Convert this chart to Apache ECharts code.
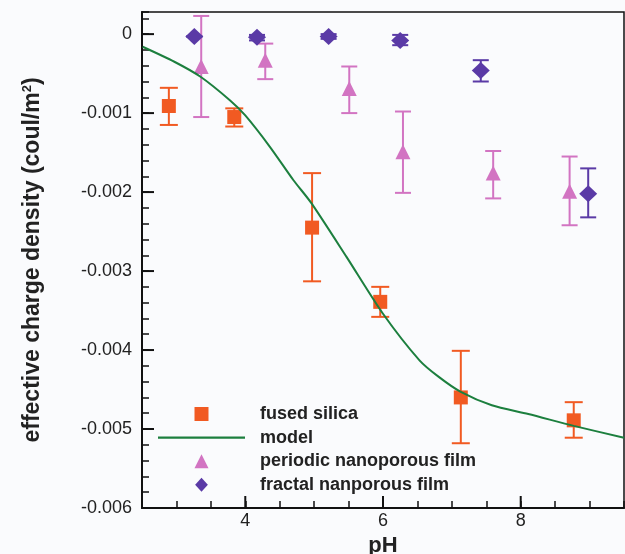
<!DOCTYPE html>
<html>
<head>
<meta charset="utf-8">
<script src="https://cdn.jsdelivr.net/npm/echarts@6/dist/echarts.min.js"></script>
<style>
html,body{margin:0;padding:0;background:#fafbfd;}
#chart{width:625px;height:554px;}
</style>
</head>
<body>
<div id="chart"></div>
<script>
// ---- data ----
const fusedX    = [2.89, 3.84, 4.97, 5.96, 7.13, 8.77];
const fusedY    = [-0.00091, -0.00105, -0.00245, -0.00339, -0.00460, -0.00489];
const fusedLow  = [-0.00115, -0.00117, -0.00313, -0.00358, -0.00518, -0.00511];
const fusedHigh = [-0.00068, -0.00094, -0.00176, -0.00320, -0.00401, -0.00466];

const periodicX    = [3.36, 4.29, 5.51, 6.29, 7.60, 8.71];
const periodicY    = [-0.00041, -0.00033, -0.00069, -0.00149, -0.00176, -0.00199];
const periodicLow  = [-0.00105, -0.00057, -0.00100, -0.00201, -0.00208, -0.00242];
const periodicHigh = [0.00023, -0.00012, -0.00041, -0.00098, -0.00148, -0.00155];

const fractalX    = [3.26, 4.17, 5.21, 6.25, 7.42, 8.98];
const fractalY    = [-0.00003, -0.00004, -0.00003, -0.00008, -0.00046, -0.00202];
const fractalLow  = [-0.00003, -0.00008, -0.00006, -0.00014, -0.00060, -0.00232];
const fractalHigh = [-0.00003, -0.00001, 0.00000, -0.00001, -0.00033, -0.00170];

const modelX = [2.51, 2.97, 3.35, 3.78, 4.00, 4.36, 4.70, 4.96, 5.47, 6.00, 6.53, 6.81, 7.13, 7.58, 8.11, 8.77, 9.50];
const modelY = [-0.00016, -0.00035, -0.00054, -0.00084, -0.00103, -0.00143, -0.00185, -0.00214, -0.00282, -0.00354, -0.00413, -0.00434, -0.00453, -0.00470, -0.00481, -0.00496, -0.00511];

const majorXTicks = [4, 6, 8];
const majorYTicks = [-0.006, -0.005, -0.004, -0.003, -0.002, -0.001, 0];

const seriesNames = ['fused silica', 'model', 'periodic nanoporous film', 'fractal nanporous film'];
const colors = { fused: '#f15a22', model: '#1c7f3e', periodic: '#d274c2', fractal: '#5a3aa6' };

const X_MIN = 2.5, X_MAX = 9.5, Y_MIN = -0.006, Y_MAX = 0.00028;
const FONT = "'Liberation Sans', Arial, Helvetica, sans-serif";

// marker shapes (paths keep their aspect ratio in the legend)
const SQUARE   = 'path://M0,0L10,0L10,10L0,10Z';
const TRIANGLE = 'path://M5,0L10,10L0,10Z';
const DIAMOND  = 'path://M5,0L10,5.5L5,11L0,5.5Z';
const LINEICON = 'path://M0,0L100,0L100,2.4L0,2.4Z';

// ---- helpers ----
function pairs(xs, ys) { return xs.map((x, i) => [x, ys[i]]); }
function triples(xs, lo, hi) { return xs.map((x, i) => [x, lo[i], hi[i]]); }

function errRender(capHalf, color) {
  return function (params, api) {
    const x = api.value(0);
    const lo = api.coord([x, api.value(1)]);
    const hi = api.coord([x, api.value(2)]);
    const st = { stroke: color, lineWidth: 2 };
    return {
      type: 'group',
      children: [
        { type: 'line', shape: { x1: lo[0], y1: lo[1], x2: hi[0], y2: hi[1] }, style: st },
        { type: 'line', shape: { x1: lo[0] - capHalf, y1: lo[1], x2: lo[0] + capHalf, y2: lo[1] }, style: st },
        { type: 'line', shape: { x1: hi[0] - capHalf, y1: hi[1], x2: hi[0] + capHalf, y2: hi[1] }, style: st }
      ]
    };
  };
}

function errSeries(xs, lo, hi, capHalf, color) {
  return {
    type: 'custom',
    data: triples(xs, lo, hi),
    encode: { x: 0, y: [1, 2] },
    renderItem: errRender(capHalf, color),
    z: 2,
    silent: true
  };
}

const chart = echarts.init(document.getElementById('chart'), null, { renderer: 'canvas' });

const option = {
  backgroundColor: '#fafbfd',
  animation: false,
  grid: {
    left: 142, top: 12, right: 1, bottom: 46,
    containLabel: false, outerBoundsMode: 'none',
    show: true, borderColor: '#111', borderWidth: 1.5, backgroundColor: 'transparent'
  },
  legend: {
    orient: 'vertical',
    left: 158,
    top: 405,
    itemWidth: 87,
    itemHeight: 14,
    itemGap: 5.6,
    padding: 0,
    data: [
      { name: seriesNames[0], icon: SQUARE },
      { name: seriesNames[1], icon: LINEICON },
      { name: seriesNames[2], icon: TRIANGLE },
      { name: seriesNames[3], icon: DIAMOND }
    ],
    textStyle: { fontFamily: FONT, fontWeight: 'bold', fontSize: 18, color: '#222', padding: [0, 0, 0, 10] }
  },
  xAxis: {
    type: 'value',
    min: X_MIN, max: X_MAX, interval: 0.5,
    name: 'pH',
    nameLocation: 'middle',
    nameGap: 26,
    nameTextStyle: { fontFamily: FONT, fontWeight: 'bold', fontSize: 22, color: '#222' },
    axisLine: { onZero: false, lineStyle: { color: '#111', width: 2 } },
    axisTick: { inside: true, length: 7, lineStyle: { color: '#111', width: 1.5 } },
    axisLabel: {
      margin: 4,
      fontFamily: FONT, fontSize: 18, color: '#222',
      formatter: v => majorXTicks.some(t => Math.abs(t - v) < 1e-9) ? String(Math.round(v)) : ''
    },
    splitLine: { show: false }
  },
  yAxis: {
    type: 'value',
    min: Y_MIN, max: Y_MAX, interval: 0.0002,
    name: 'effective charge density (coul/m{sup|2})',
    nameLocation: 'middle',
    nameGap: 98,
    nameTextStyle: {
      fontFamily: FONT, fontWeight: 'bold', fontSize: 23, color: '#222',
      rich: { sup: { fontFamily: FONT, fontWeight: 'bold', fontSize: 13, color: '#222', verticalAlign: 'top', padding: [0, 0, 8, 0] } }
    },
    axisLine: { onZero: false, lineStyle: { color: '#111', width: 2 } },
    axisTick: { inside: true, length: 7, lineStyle: { color: '#111', width: 1.5 } },
    axisLabel: {
      margin: 10,
      fontFamily: FONT, fontSize: 18, color: '#222',
      formatter: function (v) {
        const k = v * 1000;
        if (Math.abs(k - Math.round(k)) > 1e-6) return '';
        if (Math.abs(v) < 1e-9) return '0';
        return (Math.round(k) / 1000).toFixed(3);
      }
    },
    splitLine: { show: false }
  },
  series: [
    // major ticks on axes
    {
      type: 'custom', silent: true, clip: false, z: 5,
      data: majorXTicks.map(t => [t, Y_MIN]),
      encode: { x: 0, y: 1 },
      renderItem: function (params, api) {
        const p = api.coord([api.value(0), Y_MIN]);
        return { type: 'line', shape: { x1: p[0], y1: p[1], x2: p[0], y2: p[1] - 12 }, style: { stroke: '#111', lineWidth: 2 } };
      }
    },
    {
      type: 'custom', silent: true, clip: false, z: 5,
      data: majorYTicks.map(t => [X_MIN, t]),
      encode: { x: 0, y: 1 },
      renderItem: function (params, api) {
        const p = api.coord([X_MIN, api.value(1)]);
        return { type: 'line', shape: { x1: p[0], y1: p[1], x2: p[0] + 12, y2: p[1] }, style: { stroke: '#111', lineWidth: 2 } };
      }
    },
    errSeries(fusedX, fusedLow, fusedHigh, 9, colors.fused),
    errSeries(periodicX, periodicLow, periodicHigh, 8, colors.periodic),
    errSeries(fractalX, fractalLow, fractalHigh, 8, colors.fractal),
    {
      name: 'fused silica', type: 'scatter', symbol: SQUARE, symbolSize: 14,
      itemStyle: { color: colors.fused, opacity: 1 }, z: 3,
      data: pairs(fusedX, fusedY)
    },
    {
      name: 'periodic nanoporous film', type: 'scatter', symbol: TRIANGLE, symbolSize: [15, 15],
      itemStyle: { color: colors.periodic, opacity: 1 }, z: 3,
      data: pairs(periodicX, periodicY)
    },
    {
      name: 'fractal nanporous film', type: 'scatter', symbol: DIAMOND, symbolSize: [18, 17],
      itemStyle: { color: colors.fractal, opacity: 1 }, z: 3,
      data: pairs(fractalX, fractalY)
    },
    {
      name: 'model', type: 'line', symbol: 'none', smooth: 0.25, z: 4,
      lineStyle: { color: colors.model, width: 2 },
      itemStyle: { color: colors.model },
      data: pairs(modelX, modelY)
    }
  ]
};

chart.setOption(option);
</script>
</body>
</html>
